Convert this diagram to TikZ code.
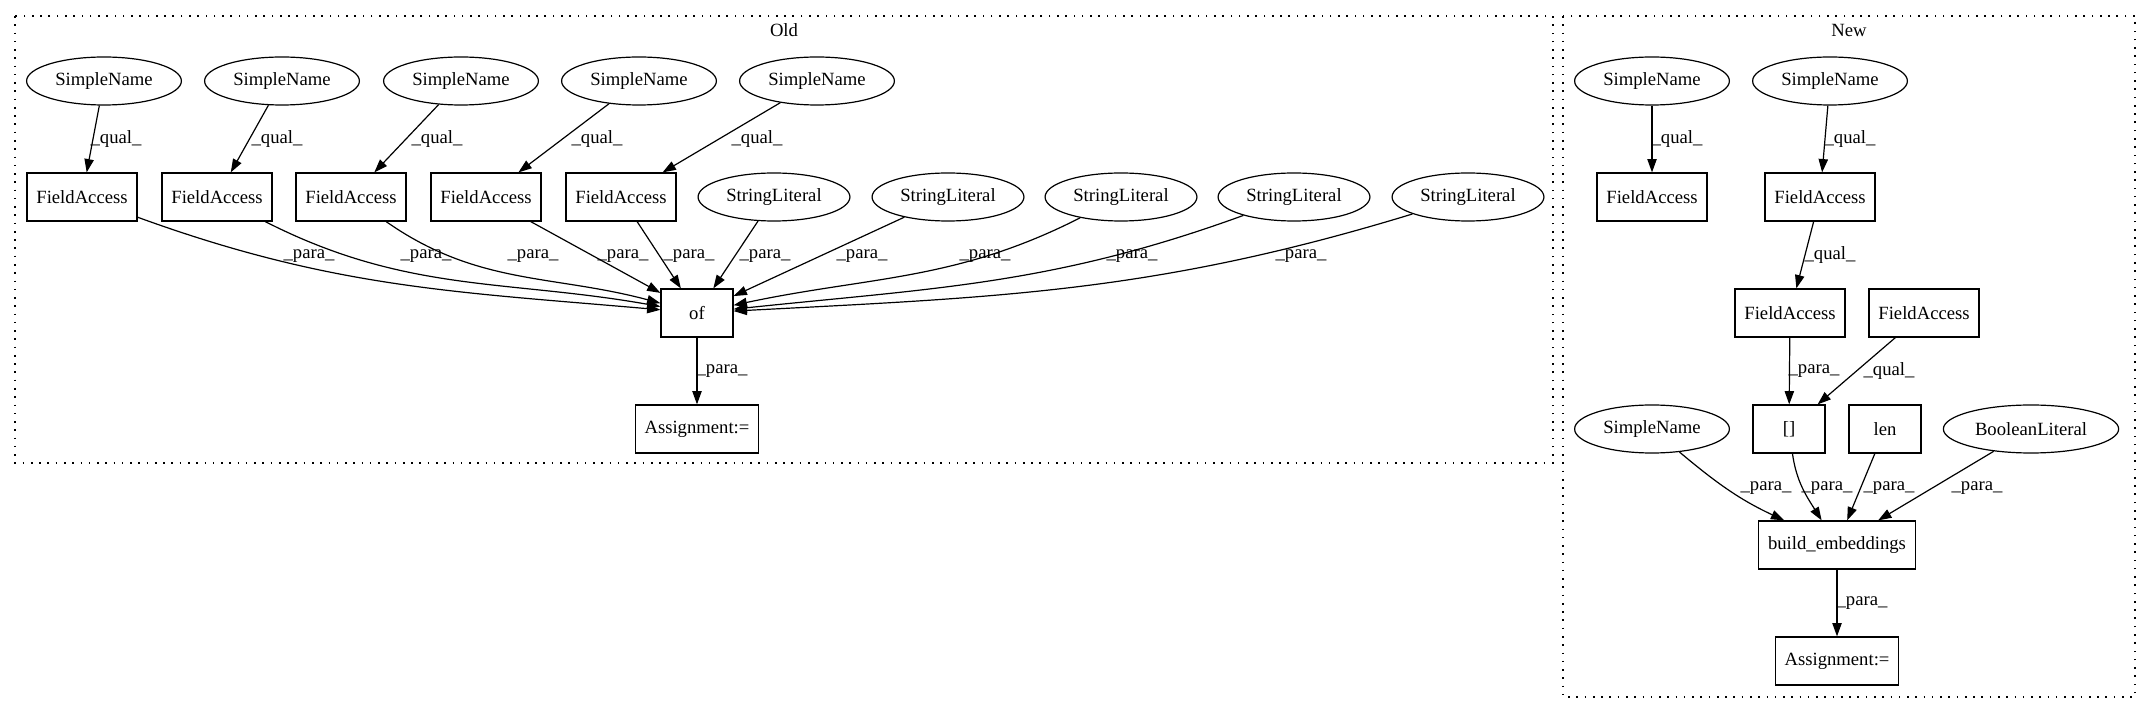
\documentclass[tikz,border=0pt]{standalone}
\usepackage{fontspec}
\setmainfont{Liberation Serif}
\usetikzlibrary{shapes.geometric,arrows.meta}

\begin{document}
\begin{tikzpicture}[x=0.75pt,y=0.75pt,>={Triangle[length=10pt,width=7pt]},
  font=\fontsize{14}{16}\selectfont,line width=0.9pt,
  box/.style={draw,rectangle,minimum width=54pt,minimum height=36pt,inner xsep=7pt},
  oval/.style={draw,ellipse,minimum height=36pt,inner xsep=4.5pt},
  lbl/.style={inner sep=1pt},
  cluster/.style={line width=1pt,dash pattern=on 1.2pt off 5pt}]
  \useasboundingbox (0,0) rectangle (2143,-712);
  \begin{scope}
  \draw[cluster] (15,-16) rectangle (1553,-463);
  \node (oldt) at (784,-30) {Old};
  \foreach \i/\x in {1/104,2/282,3/461,4/639,5/817}
    \node[oval] (osn\i) at (\x,-81) {SimpleName};
  \foreach \i/\x in {1/82,2/217,3/351,4/486,5/621}
    \node[box] (ofa\i) at (\x,-197) {FieldAccess};
  \foreach \i/\x in {1/774,2/948,3/1121,4/1294,5/1468}
    \node[oval] (osl\i) at (\x,-197) {StringLiteral};
  \node[box] (oof) at (697,-313) {of};
  \node[box] (oasg) at (697,-429) {Assignment:=};
  \foreach \i/\x in {1/116,2/277,3/437,4/597,5/757}{
    \draw[->] (osn\i) -- (ofa\i);
    \node[lbl] (oq\i) at (\x,-139) {\_qual\_};
  }
  \draw[->] (ofa1) to[out=-20,in=175] (oof);
  \draw[->] (ofa2) to[out=-27,in=170] (oof);
  \draw[->] (ofa3) to[out=-35,in=165] (oof);
  \draw[->] (ofa4) -- (oof);
  \draw[->] (ofa5) -- (oof);
  \draw[->] (osl1) -- (oof);
  \draw[->] (osl2) -- (oof);
  \draw[->] (osl3) to[out=207,in=12] (oof);
  \draw[->] (osl4) to[out=200,in=6] (oof);
  \draw[->] (osl5) to[out=197,in=3] (oof);
  \foreach \i/\x in {1/309,2/426,3/533,4/623,5/689,6/765,7/862,8/985,9/1132,10/1301}
    \node[lbl] (op\i) at (\x,-256) {\_para\_};
  \draw[->] (oof) -- (oasg);
  \node[lbl] (op11) at (722,-371) {\_para\_};
  \end{scope}
  \begin{scope}
  \draw[cluster] (1563,-16) rectangle (2135,-697);
  \node (newt) at (1849,-30) {New};
  \node[oval] (nsn1) at (1652,-81) {SimpleName};
  \node[oval] (nsn2) at (1830,-81) {SimpleName};
  \node[box] (nfa1) at (1652,-197) {FieldAccess};
  \node[box] (nfa2) at (1820,-197) {FieldAccess};
  \node[box] (nfa3) at (1790,-313) {FieldAccess};
  \node[box] (nfa4) at (1924,-313) {FieldAccess};
  \node[oval] (nsn3) at (1652,-429) {SimpleName};
  \node[box] (nidx) at (1789,-429) {[]};
  \node[box] (nlen) at (1885,-429) {len};
  \node[oval] (nbool) at (2031,-429) {BooleanLiteral};
  \node[box] (nbuild) at (1837,-545) {build\_embeddings};
  \node[box] (nasg) at (1837,-661) {Assignment:=};
  \draw[->] (nsn1) -- (nfa1);
  \draw[->] (nsn2) -- (nfa2);
  \draw[->] (nfa2) -- (nfa3);
  \draw[->] (nfa3) -- (nidx);
  \draw[->] (nfa4) -- (nidx);
  \draw[->] (nsn3) to[out=-40,in=155] (nbuild);
  \draw[->] (nidx) to[out=-82,in=122] (nbuild);
  \draw[->] (nlen) -- (nbuild);
  \draw[->] (nbool) -- (nbuild);
  \draw[->] (nbuild) -- (nasg);
  \node[lbl] (nq1) at (1677,-139) {\_qual\_};
  \node[lbl] (nq2) at (1850,-139) {\_qual\_};
  \node[lbl] (nq3) at (1830,-255) {\_qual\_};
  \node[lbl] (np1) at (1814,-371) {\_para\_};
  \node[lbl] (nq4) at (1889,-371) {\_qual\_};
  \node[lbl] (np2) at (1766,-488) {\_para\_};
  \node[lbl] (np3) at (1827,-488) {\_para\_};
  \node[lbl] (np4) at (1889,-488) {\_para\_};
  \node[lbl] (np5) at (1977,-488) {\_para\_};
  \node[lbl] (np6) at (1862,-603) {\_para\_};
  \end{scope}
\end{tikzpicture}
\end{document}
